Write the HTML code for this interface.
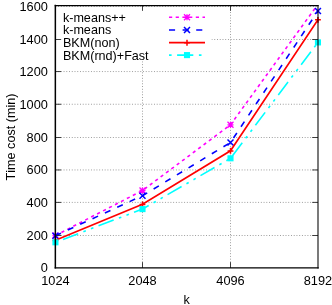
<!DOCTYPE html>
<html><head><meta charset="utf-8"><title>plot</title>
<style>
html,body{margin:0;padding:0;background:#fff;}
body{width:332px;height:305px;overflow:hidden;}
svg{display:block;will-change:transform;}
text{font-family:"Liberation Sans",sans-serif;font-size:12.6px;fill:#000;font-kerning:none;font-feature-settings:"kern" 0;}
</style></head><body>
<svg width="332" height="305" viewBox="0 0 332 305">
<rect x="0" y="0" width="332" height="305" fill="#fff"/>

<g stroke="#9a9a9a" stroke-width="1" stroke-dasharray="0.95 1.79" fill="none">
<line x1="55.35" y1="235.50" x2="318.0" y2="235.50"/>
<line x1="55.35" y1="202.40" x2="318.0" y2="202.40"/>
<line x1="55.35" y1="169.95" x2="318.0" y2="169.95"/>
<line x1="55.35" y1="137.50" x2="318.0" y2="137.50"/>
<line x1="55.35" y1="104.25" x2="318.0" y2="104.25"/>
<line x1="55.35" y1="71.55" x2="318.0" y2="71.55"/>
<line x1="55.35" y1="39.50" x2="318.0" y2="39.50"/>
<line x1="55.35" y1="6.50" x2="318.0" y2="6.50"/>
<line x1="142.50" y1="267.85" x2="142.50" y2="5.55"/>
<line x1="230.50" y1="267.85" x2="230.50" y2="5.55"/>
</g>
<rect x="55.35" y="7.1" width="156.15" height="54.1" fill="#fff"/>
<text transform="translate(47.9,272.30) scale(1.015,1)" text-anchor="end">0</text>
<text transform="translate(47.9,239.65) scale(1.015,1)" text-anchor="end">200</text>
<text transform="translate(47.9,207.00) scale(1.015,1)" text-anchor="end">400</text>
<text transform="translate(47.9,174.35) scale(1.015,1)" text-anchor="end">600</text>
<text transform="translate(47.9,141.70) scale(1.015,1)" text-anchor="end">800</text>
<text transform="translate(47.9,109.05) scale(1.015,1)" text-anchor="end">1000</text>
<text transform="translate(47.9,76.40) scale(1.015,1)" text-anchor="end">1200</text>
<text transform="translate(47.9,43.75) scale(1.015,1)" text-anchor="end">1400</text>
<text transform="translate(47.9,11.10) scale(1.015,1)" text-anchor="end">1600</text>
<text transform="translate(55.45,285.3) scale(1.015,1)" text-anchor="middle">1024</text>
<text transform="translate(142.50,285.3) scale(1.015,1)" text-anchor="middle">2048</text>
<text transform="translate(230.50,285.3) scale(1.015,1)" text-anchor="middle">4096</text>
<text transform="translate(317.95,285.3) scale(1.015,1)" text-anchor="middle">8192</text>
<text x="186.6" y="304.1" text-anchor="middle">k</text>
<text transform="translate(15.2,137.0) rotate(-90)" text-anchor="middle">Time cost (min)</text>
<text x="62.9" y="21.90">k-means++</text>
<text x="62.9" y="34.40">k-means</text>
<text x="62.9" y="46.90">BKM(non)</text>
<text x="62.9" y="60.00">BKM(rnd)+Fast</text>
<polyline points="55.45,235.50 142.50,190.50 230.50,124.80 316.40,6.40" fill="none" stroke="#ff00ff" stroke-width="1.6" stroke-dasharray="3.2 3.5"/>
<path stroke="#ff00ff" stroke-width="1.3" fill="none" d="M52.45,235.50H58.45M55.45,232.50V238.50M52.45,232.50L58.45,238.50M52.45,238.50L58.45,232.50"/>
<path stroke="#ff00ff" stroke-width="1.3" fill="none" d="M139.50,190.50H145.50M142.50,187.50V193.50M139.50,187.50L145.50,193.50M139.50,193.50L145.50,187.50"/>
<path stroke="#ff00ff" stroke-width="1.3" fill="none" d="M227.50,124.80H233.50M230.50,121.80V127.80M227.50,121.80L233.50,127.80M227.50,127.80L233.50,121.80"/>
<line x1="169" y1="17.3" x2="205" y2="17.3" stroke="#ff00ff" stroke-width="1.6" stroke-dasharray="3.2 3.5"/>
<path stroke="#ff00ff" stroke-width="1.3" fill="none" d="M184.00,17.30H190.00M187.00,14.30V20.30M184.00,14.30L190.00,20.30M184.00,20.30L190.00,14.30"/>
<polyline points="55.45,235.70 142.50,195.70 230.50,142.50 317.95,11.00" fill="none" stroke="#0000ff" stroke-width="1.6" stroke-dasharray="6.1 7.5"/>
<path stroke="#0000ff" stroke-width="1.5" fill="none" d="M52.45,232.70L58.45,238.70M52.45,238.70L58.45,232.70"/>
<path stroke="#0000ff" stroke-width="1.5" fill="none" d="M139.50,192.70L145.50,198.70M139.50,198.70L145.50,192.70"/>
<path stroke="#0000ff" stroke-width="1.5" fill="none" d="M227.50,139.50L233.50,145.50M227.50,145.50L233.50,139.50"/>
<path stroke="#0000ff" stroke-width="1.5" fill="none" d="M314.95,8.00L320.95,14.00M314.95,14.00L320.95,8.00"/>
<line x1="169" y1="30.0" x2="205" y2="30.0" stroke="#0000ff" stroke-width="1.6" stroke-dasharray="6.1 7.5"/>
<path stroke="#0000ff" stroke-width="1.5" fill="none" d="M184.00,27.00L190.00,33.00M184.00,33.00L190.00,27.00"/>
<polyline points="55.45,240.30 142.50,204.30 230.50,150.80 317.95,19.70" fill="none" stroke="#ff0000" stroke-width="1.6"/>
<path stroke="#ff0000" stroke-width="1.5" fill="none" d="M52.55,240.45H58.35M55.45,237.55V243.35"/>
<path stroke="#ff0000" stroke-width="1.5" fill="none" d="M139.60,204.45H145.40M142.50,201.55V207.35"/>
<path stroke="#ff0000" stroke-width="1.5" fill="none" d="M227.60,150.95H233.40M230.50,148.05V153.85"/>
<path stroke="#ff0000" stroke-width="1.5" fill="none" d="M315.05,19.85H320.85M317.95,16.95V22.75"/>
<line x1="169" y1="42.6" x2="205" y2="42.6" stroke="#ff0000" stroke-width="1.6"/>
<path stroke="#ff0000" stroke-width="1.5" fill="none" d="M184.10,42.75H189.90M187.00,39.85V45.65"/>
<polyline points="55.45,242.30 142.50,209.10 230.50,158.30 317.95,42.40" fill="none" stroke="#00ffff" stroke-width="1.6" stroke-dasharray="2.6 5.5 16.2 5.6 2.6 5.5"/>
<rect x="52.40" y="239.25" width="6.1" height="6.1" fill="#00ffff"/>
<rect x="139.45" y="206.05" width="6.1" height="6.1" fill="#00ffff"/>
<rect x="227.45" y="155.25" width="6.1" height="6.1" fill="#00ffff"/>
<rect x="314.90" y="39.35" width="6.1" height="6.1" fill="#00ffff"/>
<line x1="169" y1="55.1" x2="205" y2="55.1" stroke="#00ffff" stroke-width="1.6" stroke-dasharray="2.6 5.5 16.2 5.6 2.6 5.5"/>
<rect x="183.95" y="52.05" width="6.1" height="6.1" fill="#00ffff"/>
<g stroke="#2a2a2a" stroke-width="0.9" fill="none">
<line x1="55.35" y1="235.50" x2="61.15" y2="235.50"/>
<line x1="318.0" y1="235.50" x2="312.2" y2="235.50"/>
<line x1="55.35" y1="202.40" x2="61.15" y2="202.40"/>
<line x1="318.0" y1="202.40" x2="312.2" y2="202.40"/>
<line x1="55.35" y1="169.95" x2="61.15" y2="169.95"/>
<line x1="318.0" y1="169.95" x2="312.2" y2="169.95"/>
<line x1="55.35" y1="137.50" x2="61.15" y2="137.50"/>
<line x1="318.0" y1="137.50" x2="312.2" y2="137.50"/>
<line x1="55.35" y1="104.25" x2="61.15" y2="104.25"/>
<line x1="318.0" y1="104.25" x2="312.2" y2="104.25"/>
<line x1="55.35" y1="71.55" x2="61.15" y2="71.55"/>
<line x1="318.0" y1="71.55" x2="312.2" y2="71.55"/>
<line x1="55.35" y1="39.50" x2="61.15" y2="39.50"/>
<line x1="318.0" y1="39.50" x2="312.2" y2="39.50"/>
<line x1="142.50" y1="267.85" x2="142.50" y2="262.15"/>
<line x1="142.50" y1="5.55" x2="142.50" y2="10.85"/>
<line x1="230.50" y1="267.85" x2="230.50" y2="262.15"/>
<line x1="230.50" y1="5.55" x2="230.50" y2="10.85"/>
</g>
<g stroke="#000" fill="none" stroke-linecap="square"><line x1="55.35" y1="5.55" x2="55.35" y2="267.85" stroke-width="1.5"/><line x1="55.35" y1="5.55" x2="318.0" y2="5.55" stroke-width="1.3"/><line x1="55.35" y1="267.85" x2="318.0" y2="267.85" stroke-width="1.45"/><line x1="318.0" y1="5.55" x2="318.0" y2="267.85" stroke-width="1.05"/></g>
</svg></body></html>
